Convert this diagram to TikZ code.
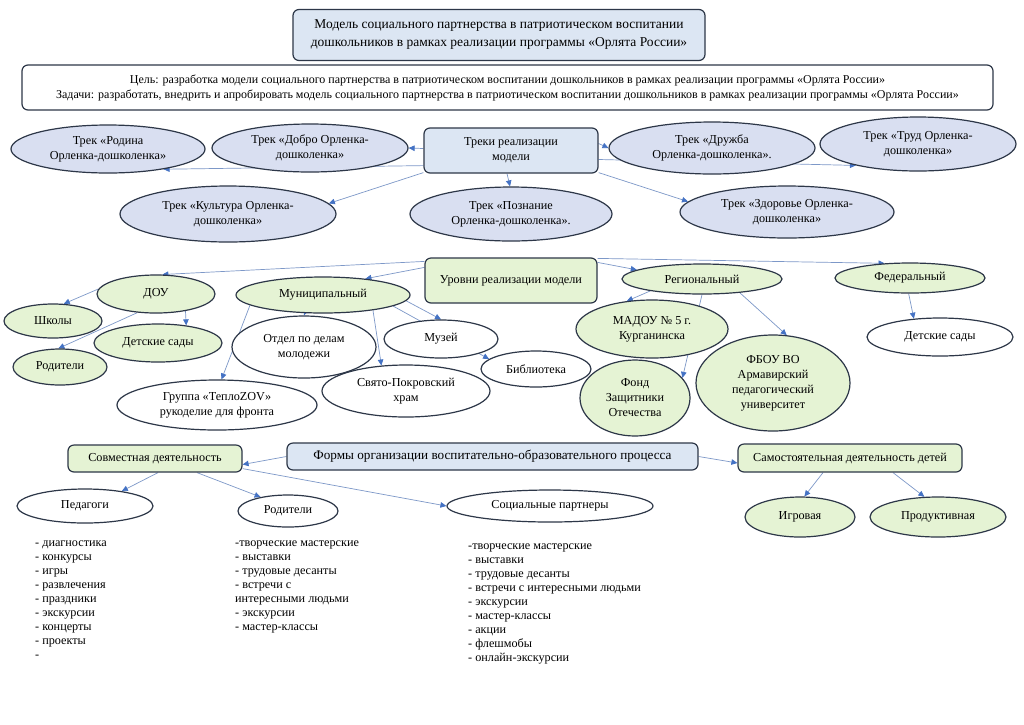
\documentclass[tikz,border=0pt]{standalone}
\usepackage{fontspec}
\setmainfont{Liberation Serif}
\usetikzlibrary{shapes.geometric,arrows.meta,backgrounds}
\definecolor{bordercol}{RGB}{45,55,72}
\definecolor{linecol}{RGB}{125,152,200}
\definecolor{arrowcol}{RGB}{68,114,196}
\definecolor{boxblue}{RGB}{220,230,243}
\definecolor{trackblue}{RGB}{217,223,241}
\definecolor{lgreen}{RGB}{229,243,212}
\newcommand\myfsN{\fontsize{12.2}{15}\selectfont}
\newcommand\myfsT{\fontsize{13.5}{18}\selectfont}
\newcommand\myfsG{\fontsize{12}{15}\selectfont}
\newcommand\myfsL{\fontsize{12.2}{14}\selectfont}
\tikzset{
  rbox/.style={rectangle, rounded corners=6pt, draw=bordercol, line width=1.2pt, align=center, inner sep=0pt, font=\myfsN},
  ell/.style={ellipse, draw=bordercol, line width=1.2pt, align=center, inner sep=0pt, font=\myfsN},
  conn/.style={draw=linecol, line width=0.7pt, -{Triangle[length=6pt,width=5.5pt,color=arrowcol]}},
  listtext/.style={align=left, inner sep=0pt, font=\myfsL, anchor=north west}
}
\begin{document}
\begin{tikzpicture}[x=1pt,y=-1pt]
\useasboundingbox (0,0) rectangle (1024,724);

% top
\node[rbox, fill=boxblue, minimum width=412pt, minimum height=51pt, font=\myfsT] (title) at (499,35)
  {Модель социального партнерства в патриотическом воспитании\\дошкольников в рамках реализации программы «Орлята России»};
\node[rbox, fill=white, minimum width=971pt, minimum height=45pt, font=\myfsG] (goal) at (507.5,87.5)
  {Цель: разработка модели социального партнерства в патриотическом воспитании дошкольников в рамках реализации программы «Орлята России»\\Задачи: разработать, внедрить и апробировать модель социального партнерства в патриотическом воспитании дошкольников в рамках реализации программы «Орлята России»};

% tracks
\node[rbox, fill=boxblue, minimum width=174pt, minimum height=45pt] (tracks) at (511,150.5) {Треки реализации\\модели};
\node[ell, fill=trackblue, minimum width=194pt, minimum height=48pt] (rodina) at (108,149) {Трек «Родина\\Орленка-дошколенка»};
\node[ell, fill=trackblue, minimum width=196pt, minimum height=48pt] (dobro) at (310,148) {Трек «Добро Орленка-\\дошколенка»};
\node[ell, fill=trackblue, minimum width=216pt, minimum height=56pt] (kultura) at (228,214) {Трек «Культура Орленка-\\дошколенка»};
\node[ell, fill=trackblue, minimum width=202pt, minimum height=54pt] (poznanie) at (511,214) {Трек «Познание\\Орленка-дошколенка».};
\node[ell, fill=trackblue, minimum width=206pt, minimum height=52pt] (druzhba) at (712,148) {Трек «Дружба\\Орленка-дошколенка».};
\node[ell, fill=trackblue, minimum width=196pt, minimum height=54pt] (trud) at (918,144) {Трек «Труд Орленка-\\дошколенка»};
\node[ell, fill=trackblue, minimum width=214pt, minimum height=52pt] (zdorovie) at (787,212) {Трек «Здоровье Орленка-\\дошколенка»};

% levels
\node[rbox, fill=lgreen, minimum width=172pt, minimum height=45pt] (levels) at (511,280.5) {Уровни реализации модели};
\node[ell, fill=lgreen, minimum width=118pt, minimum height=38pt] (dou) at (156,294) {ДОУ};
\node[ell, fill=lgreen, minimum width=98pt, minimum height=34pt] (shkoly) at (53,321) {Школы};
\node[ell, fill=lgreen, minimum width=128pt, minimum height=38pt] (dsady1) at (158,343) {Детские сады};
\node[ell, fill=lgreen, minimum width=94pt, minimum height=36pt] (roditeli1) at (60,367) {Родители};
\node[ell, fill=lgreen, minimum width=174pt, minimum height=36pt] (munic) at (323,295) {Муниципальный};
\node[ell, fill=white, minimum width=144pt, minimum height=62pt] (otdel) at (304,347) {Отдел по делам\\молодежи};
\node[ell, fill=white, minimum width=114pt, minimum height=38pt] (muzei) at (441,339) {Музей};
\node[ell, fill=white, minimum width=110pt, minimum height=36pt] (biblio) at (536,369) {Библиотека};
\node[ell, fill=white, minimum width=200pt, minimum height=50pt] (gruppa) at (217,405) {Группа «ТеплоZOV»\\рукоделие для фронта};
\node[ell, fill=white, minimum width=168pt, minimum height=52pt] (svyato) at (406,391) {Свято-Покровский\\храм};
\node[ell, fill=lgreen, minimum width=160pt, minimum height=30pt] (region) at (702,279) {Региональный};
\node[ell, fill=lgreen, minimum width=150pt, minimum height=30pt] (federal) at (910,278) {Федеральный};
\node[ell, fill=white, minimum width=146pt, minimum height=38pt] (dsady2) at (940,337) {Детские сады};
\node[ell, fill=lgreen, minimum width=152pt, minimum height=58pt] (madou) at (652,329) {МАДОУ № 5 г.\\Курганинска};
\node[ell, fill=lgreen, minimum width=110pt, minimum height=76pt] (fond) at (635,398) {Фонд\\Защитники\\Отечества};
\node[ell, fill=lgreen, minimum width=154pt, minimum height=96pt] (fbou) at (773,383) {ФБОУ ВО\\Армавирский\\педагогический\\университет};

% forms
\node[rbox, fill=boxblue, minimum width=411pt, minimum height=27pt, font=\fontsize{13.2}{15}\selectfont] (forms) at (492.5,456.5) {Формы организации воспитательно-образовательного процесса};
\node[rbox, fill=lgreen, minimum width=174pt, minimum height=27pt] (sovm) at (155,458.5) {Совместная деятельность};
\node[rbox, fill=lgreen, minimum width=224pt, minimum height=28pt] (samost) at (850,458) {Самостоятельная деятельность детей};
\node[ell, fill=white, minimum width=136pt, minimum height=34pt] (pedagogi) at (85,506) {Педагоги};
\node[ell, fill=white, minimum width=100pt, minimum height=32pt] (roditeli2) at (288,511) {Родители};
\node[ell, fill=white, minimum width=206pt, minimum height=32pt] (social) at (550,506) {Социальные партнеры};
\node[ell, fill=lgreen, minimum width=110pt, minimum height=40pt] (igrovaya) at (800,517) {Игровая};
\node[ell, fill=lgreen, minimum width=136pt, minimum height=40pt] (produkt) at (938,517) {Продуктивная};

% lists
\node[listtext] (pedlist) at (35,541) {- диагностика\\- конкурсы\\- игры\\- развлечения\\- праздники\\- экскурсии\\- концерты\\- проекты\\-};
\node[listtext] (rodlist) at (235,541) {-творческие мастерские\\- выставки\\- трудовые десанты\\- встречи с\\интересными людьми\\- экскурсии\\- мастер-классы};
\node[listtext] (soclist) at (468,544) {-творческие мастерские\\- выставки\\- трудовые десанты\\- встречи с интересными людьми\\- экскурсии\\- мастер-классы\\- акции\\- флешмобы\\- онлайн-экскурсии};

\begin{scope}[on background layer]
\fill[white] (0,0) rectangle (1024,724);
\draw[conn] ([yshift=8pt]tracks.south west) -- (rodina.-20);
\draw[conn] ([yshift=2pt]tracks.west) -- (dobro.east);
\draw[conn] ([yshift=1pt]tracks.south west) -- (kultura.6);
\draw[conn] ([xshift=-4pt]tracks.south) -- (poznanie.92);
\draw[conn] ([yshift=7pt]tracks.east) -- (druzhba.west);
\draw[conn] ([yshift=-9pt]tracks.east) -- (trud.199);
\draw[conn] ([yshift=1pt]tracks.south east) -- (zdorovie.174);
\draw[conn] ([yshift=-4pt]levels.north west) -- (dou.72);
\draw[conn] ([yshift=-10pt]levels.north west) -- (munic.21);
\draw[conn] ([yshift=-1pt]levels.north east) -- (federal.150);
\draw[conn] ([yshift=-5pt]levels.north east) -- (region.172);
\draw[conn] (region.193) -- (madou.132);
\draw[conn] (region.270) -- (fond.23);
\draw[conn] (region.-20) -- (fbou.74);
\draw[conn] (federal.265) -- (dsady2.145);
\draw[conn] (dou.175) -- (shkoly.58);
\draw[conn] (dou.-30) -- (dsady1.32);
\draw[conn] (dou.225) -- (roditeli1.95);
\draw[conn] (munic.188) -- (gruppa.80);
\draw[conn] (munic.225) -- (otdel.north);
\draw[conn] (munic.-17) -- (svyato.134);
\draw[conn] (munic.-4) -- (muzei.north);
\draw[conn] (munic.-9) -- (biblio.168);
\draw[conn] (forms.west) -- ([yshift=-6pt]sovm.east);
\draw[conn] ([xshift=3pt]sovm.south) -- (pedagogi.22);
\draw[conn] ([xshift=42pt]sovm.south) -- (roditeli2.153);
\draw[conn] ([yshift=4pt]sovm.south east) -- (social.west);
\draw[conn] (forms.east) -- ([yshift=-5pt]samost.west);
\draw[conn] ([xshift=-27pt]samost.south) -- (igrovaya.78);
\draw[conn] ([xshift=43pt]samost.south) -- (produkt.124);
\end{scope}
\end{tikzpicture}
\end{document}
